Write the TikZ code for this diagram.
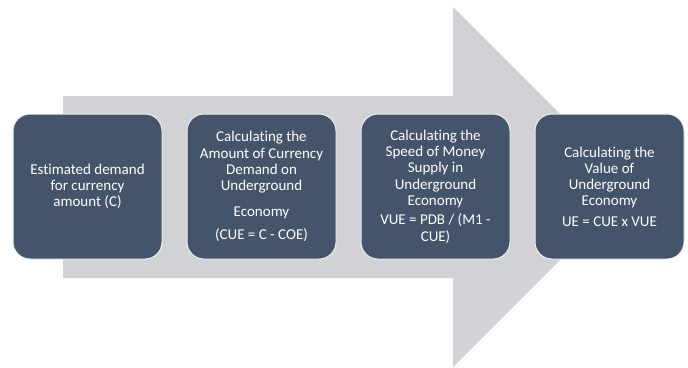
\documentclass[tikz,border=0pt]{standalone}
\usepackage{fontspec}
\setmainfont{Carlito}[RawFeature=-liga]
\definecolor{arrowgrey}{HTML}{D0D2D6}
\definecolor{stepblue}{HTML}{44546A}
\definecolor{stepedge}{HTML}{EDEEF0}
\begin{document}
\begin{tikzpicture}[x=1pt,y=1pt,
  stepbox/.style={draw=stepedge, line width=1pt, fill=stepblue, rounded corners=17pt,
    minimum width=149pt, minimum height=145pt, inner sep=0pt,
    text=white, align=center, font=\fontsize{15}{16.3}\selectfont}]
\useasboundingbox (0,0) rectangle (688,-367);
% big background arrow
\fill[arrowgrey] (63,-96) -- (453,-96) -- (453,-7) -- (633,-187) -- (453,-367)
  -- (453,-278) -- (63,-278) -- cycle;
% process steps
\node[stepbox] (s1) at (87.5,-186.5) {Estimated demand\\for currency\\amount (C)};
\node[stepbox] (s2) at (261.5,-186.5) {Calculating the\\Amount of Currency\\Demand on\\Underground\\[9pt]Economy\\[7pt](CUE = C - COE)};
\node[stepbox] (s3) at (435.5,-186.5) {Calculating the\\Speed of Money\\Supply in\\Underground\\Economy\\[3pt]VUE = PDB / (M1 -\\CUE)};
\node[stepbox] (s4) at (609.5,-186.5) {Calculating the\\Value of\\Underground\\Economy\\[4pt]UE = CUE x VUE};
\end{tikzpicture}
\end{document}
